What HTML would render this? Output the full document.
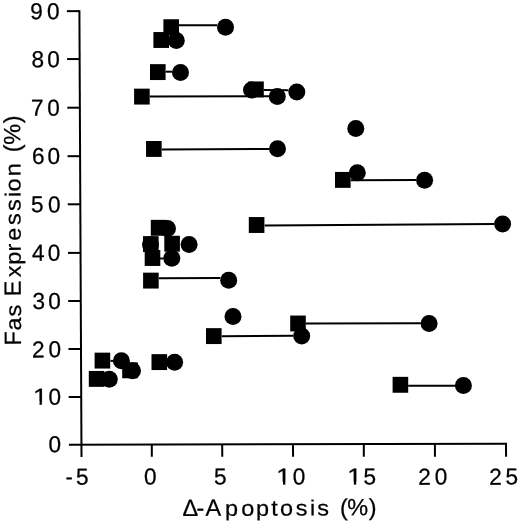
<!DOCTYPE html><html><head><meta charset="utf-8"><style>html,body{margin:0;padding:0;background:#fff}svg{display:block;will-change:transform}text{font-family:"Liberation Sans",sans-serif;fill:#000;stroke:#000;stroke-width:0.25px}</style></head><body>
<svg width="520" height="523" viewBox="0 0 520 523">
<rect width="520" height="523" fill="#fff"/>
<defs><clipPath id="c1"><rect x="-5" y="-30" width="30" height="27.356"/><rect x="5.532" y="-30" width="1.944" height="32"/></clipPath></defs>
<line x1="79.40" y1="10.20" x2="81.50" y2="457.00" stroke="#000" stroke-width="2.0"/>
<line x1="68.90" y1="444.75" x2="507.00" y2="443.83" stroke="#000" stroke-width="2.0"/>
<line x1="66.85" y1="11.15" x2="79.40" y2="11.15" stroke="#000" stroke-width="2.0"/>
<line x1="67.08" y1="59.05" x2="79.63" y2="59.05" stroke="#000" stroke-width="2.0"/>
<line x1="67.31" y1="107.70" x2="79.86" y2="107.70" stroke="#000" stroke-width="2.0"/>
<line x1="67.53" y1="156.20" x2="80.08" y2="156.20" stroke="#000" stroke-width="2.0"/>
<line x1="67.76" y1="204.30" x2="80.31" y2="204.30" stroke="#000" stroke-width="2.0"/>
<line x1="67.99" y1="252.90" x2="80.54" y2="252.90" stroke="#000" stroke-width="2.0"/>
<line x1="68.21" y1="301.00" x2="80.76" y2="301.00" stroke="#000" stroke-width="2.0"/>
<line x1="68.44" y1="349.00" x2="80.99" y2="349.00" stroke="#000" stroke-width="2.0"/>
<line x1="68.67" y1="397.00" x2="81.22" y2="397.00" stroke="#000" stroke-width="2.0"/>
<line x1="151.80" y1="444.57" x2="151.85" y2="456.80" stroke="#000" stroke-width="2.0"/>
<line x1="222.20" y1="444.42" x2="222.25" y2="456.80" stroke="#000" stroke-width="2.0"/>
<line x1="293.00" y1="444.28" x2="293.05" y2="456.80" stroke="#000" stroke-width="2.0"/>
<line x1="363.80" y1="444.13" x2="363.85" y2="456.80" stroke="#000" stroke-width="2.0"/>
<line x1="434.90" y1="443.98" x2="434.95" y2="456.80" stroke="#000" stroke-width="2.0"/>
<line x1="506.00" y1="443.83" x2="506.05" y2="456.80" stroke="#000" stroke-width="2.0"/>
<text x="30.44" y="18.87" font-size="22" transform="translate(36.550,11.300) rotate(-0.2) scale(1.03,1.05) translate(-36.550,-11.300)">9</text>
<text x="47.28" y="18.87" font-size="22" transform="translate(53.400,11.300) rotate(-0.2) scale(1.03,1.05) translate(-53.400,-11.300)">0</text>
<text x="31.58" y="66.77" font-size="22" transform="translate(37.700,59.200) rotate(-0.2) scale(1.03,1.05) translate(-37.700,-59.200)">8</text>
<text x="47.53" y="66.77" font-size="22" transform="translate(53.650,59.200) rotate(-0.2) scale(1.03,1.05) translate(-53.650,-59.200)">0</text>
<text x="31.17" y="115.27" font-size="22" transform="translate(37.300,107.700) rotate(-0.2) scale(1.03,1.05) translate(-37.300,-107.700)">7</text>
<text x="47.53" y="115.27" font-size="22" transform="translate(53.650,107.700) rotate(-0.2) scale(1.03,1.05) translate(-53.650,-107.700)">0</text>
<text x="32.06" y="163.52" font-size="22" transform="translate(38.250,155.950) rotate(-0.2) scale(1.03,1.05) translate(-38.250,-155.950)">6</text>
<text x="47.73" y="163.52" font-size="22" transform="translate(53.850,155.950) rotate(-0.2) scale(1.03,1.05) translate(-53.850,-155.950)">0</text>
<text x="31.05" y="211.91" font-size="22" transform="translate(37.150,204.450) rotate(-0.2) scale(1.03,1.05) translate(-37.150,-204.450)">5</text>
<text x="48.18" y="212.02" font-size="22" transform="translate(54.300,204.450) rotate(-0.2) scale(1.03,1.05) translate(-54.300,-204.450)">0</text>
<text x="32.20" y="260.27" font-size="22" transform="translate(38.250,252.700) rotate(-0.2) scale(1.03,1.05) translate(-38.250,-252.700)">4</text>
<text x="47.88" y="260.27" font-size="22" transform="translate(54.000,252.700) rotate(-0.2) scale(1.03,1.05) translate(-54.000,-252.700)">0</text>
<text x="32.60" y="308.52" font-size="22" transform="translate(38.650,300.950) rotate(-0.2) scale(1.03,1.05) translate(-38.650,-300.950)">3</text>
<text x="48.53" y="308.52" font-size="22" transform="translate(54.650,300.950) rotate(-0.2) scale(1.03,1.05) translate(-54.650,-300.950)">0</text>
<text x="32.18" y="357.03" font-size="22" transform="translate(38.300,349.350) rotate(-0.2) scale(1.03,1.05) translate(-38.300,-349.350)">2</text>
<text x="48.68" y="356.92" font-size="22" transform="translate(54.800,349.350) rotate(-0.2) scale(1.03,1.05) translate(-54.800,-349.350)">0</text>
<g transform="translate(38.650,396.700) rotate(-0.2) scale(1.2,1.05) translate(-38.650,-396.700) translate(33.854,404.268)"><text x="0" y="0" font-size="22" clip-path="url(#c1)">1</text></g>
<text x="48.68" y="404.27" font-size="22" transform="translate(54.800,396.700) rotate(-0.2) scale(1.03,1.05) translate(-54.800,-396.700)">0</text>
<text x="48.68" y="451.92" font-size="22" transform="translate(54.800,444.350) rotate(-0.2) scale(1.03,1.05) translate(-54.800,-444.350)">0</text>
<rect x="66.35" y="477.40" width="5.5" height="2.1"/>
<text x="76.10" y="484.46" font-size="22" transform="translate(82.200,477.000) rotate(-0.2) scale(1.03,1.05) translate(-82.200,-477.000)">5</text>
<text x="144.28" y="484.17" font-size="22" transform="translate(150.400,476.600) rotate(-0.2) scale(1.03,1.05) translate(-150.400,-476.600)">0</text>
<text x="214.10" y="484.06" font-size="22" transform="translate(220.200,476.600) rotate(-0.2) scale(1.03,1.05) translate(-220.200,-476.600)">5</text>
<g transform="translate(282.100,476.600) rotate(-0.2) scale(1.2,1.05) translate(-282.100,-476.600) translate(277.304,484.168)"><text x="0" y="0" font-size="22" clip-path="url(#c1)">1</text></g>
<text x="292.98" y="484.17" font-size="22" transform="translate(299.100,476.600) rotate(-0.2) scale(1.03,1.05) translate(-299.100,-476.600)">0</text>
<g transform="translate(352.950,476.600) rotate(-0.2) scale(1.2,1.05) translate(-352.950,-476.600) translate(348.154,484.168)"><text x="0" y="0" font-size="22" clip-path="url(#c1)">1</text></g>
<text x="363.60" y="484.06" font-size="22" transform="translate(369.700,476.600) rotate(-0.2) scale(1.03,1.05) translate(-369.700,-476.600)">5</text>
<text x="418.48" y="484.28" font-size="22" transform="translate(424.600,476.600) rotate(-0.2) scale(1.03,1.05) translate(-424.600,-476.600)">2</text>
<text x="434.93" y="484.17" font-size="22" transform="translate(441.050,476.600) rotate(-0.2) scale(1.03,1.05) translate(-441.050,-476.600)">0</text>
<text x="489.33" y="484.28" font-size="22" transform="translate(495.450,476.600) rotate(-0.2) scale(1.03,1.05) translate(-495.450,-476.600)">2</text>
<text x="505.75" y="484.06" font-size="22" transform="translate(511.850,476.600) rotate(-0.2) scale(1.03,1.05) translate(-511.850,-476.600)">5</text>
<text y="515.6" font-size="23.5" transform="rotate(-0.2 279 507)"><tspan x="182.36">Δ</tspan><tspan x="196.49">-</tspan><tspan x="205.46">A</tspan><tspan x="340.03">(</tspan><tspan x="347.25">%</tspan><tspan x="368.65">)</tspan></text>
<text y="515.6" font-size="23.5" transform="rotate(-0.2 279 507) matrix(1,0,0,0.93,0,36.092)"><tspan x="224.90">p</tspan><tspan x="241.27">o</tspan><tspan x="255.90">p</tspan><tspan x="271.24">t</tspan><tspan x="279.97">o</tspan><tspan x="295.82">s</tspan><tspan x="310.05">i</tspan><tspan x="317.32">s</tspan></text>
<text transform="rotate(-0.2 12 230) rotate(-90)" y="20.6" font-size="23.5"><tspan x="-345.47">F</tspan><tspan x="-296.35">E</tspan><tspan x="-152.37">(</tspan><tspan x="-144.90">%</tspan><tspan x="-123.30">)</tspan></text>
<text transform="rotate(-0.2 12 230) rotate(-90) matrix(1,0,0,0.93,0,1.442)" y="20.6" font-size="23.5"><tspan x="-330.53">a</tspan><tspan x="-316.63">s</tspan><tspan x="-277.38">x</tspan><tspan x="-264.90">p</tspan><tspan x="-251.60">r</tspan><tspan x="-240.81">e</tspan><tspan x="-224.98">s</tspan><tspan x="-210.93">s</tspan><tspan x="-197.05">i</tspan><tspan x="-191.58">o</tspan><tspan x="-176.20">n</tspan></text>
<line x1="179.00" y1="25.20" x2="217.00" y2="25.20" stroke="#000" stroke-width="2.0"/>
<line x1="165.60" y1="71.70" x2="172.30" y2="71.70" stroke="#000" stroke-width="2.0"/>
<line x1="149.70" y1="96.40" x2="269.00" y2="96.30" stroke="#000" stroke-width="2.0"/>
<line x1="263.80" y1="89.90" x2="288.50" y2="90.20" stroke="#000" stroke-width="2.0"/>
<line x1="161.70" y1="149.40" x2="269.10" y2="148.90" stroke="#000" stroke-width="2.0"/>
<line x1="350.60" y1="180.20" x2="416.00" y2="180.10" stroke="#000" stroke-width="2.0"/>
<line x1="264.60" y1="225.60" x2="494.00" y2="224.10" stroke="#000" stroke-width="2.0"/>
<line x1="160.10" y1="258.50" x2="163.50" y2="258.50" stroke="#000" stroke-width="2.0"/>
<line x1="158.80" y1="278.30" x2="220.40" y2="277.90" stroke="#000" stroke-width="2.0"/>
<line x1="221.80" y1="336.30" x2="293.30" y2="335.80" stroke="#000" stroke-width="2.0"/>
<line x1="305.80" y1="323.50" x2="420.80" y2="323.20" stroke="#000" stroke-width="2.0"/>
<line x1="110.50" y1="360.90" x2="113.30" y2="360.90" stroke="#000" stroke-width="2.0"/>
<line x1="408.20" y1="385.80" x2="455.00" y2="385.80" stroke="#000" stroke-width="2.0"/>
<circle cx="225.5" cy="27.3" r="8.5"/>
<circle cx="176.3" cy="40.4" r="8.5"/>
<circle cx="180.5" cy="72.4" r="8.5"/>
<circle cx="251.5" cy="90" r="8.5"/>
<circle cx="277.3" cy="96.6" r="8.5"/>
<circle cx="296.8" cy="92" r="8.5"/>
<circle cx="277.5" cy="148.7" r="8.5"/>
<circle cx="355.8" cy="128.4" r="8.5"/>
<circle cx="357.3" cy="172.7" r="8.5"/>
<circle cx="424.6" cy="180.2" r="8.5"/>
<circle cx="502.6" cy="224" r="8.5"/>
<circle cx="167.5" cy="228.5" r="8.5"/>
<circle cx="150.5" cy="244.5" r="8.5"/>
<circle cx="189.1" cy="244.4" r="8.5"/>
<circle cx="171.8" cy="258.3" r="8.5"/>
<circle cx="228.7" cy="280.2" r="8.5"/>
<circle cx="233" cy="316.5" r="8.5"/>
<circle cx="301.7" cy="336" r="8.5"/>
<circle cx="429.1" cy="323.5" r="8.5"/>
<circle cx="174.6" cy="362.3" r="8.5"/>
<circle cx="121.4" cy="360.8" r="8.5"/>
<circle cx="132.5" cy="370.8" r="8.5"/>
<circle cx="109.3" cy="379.2" r="8.5"/>
<circle cx="463.4" cy="385.4" r="8.5"/>
<rect x="163.40" y="19.25" width="15.6" height="15.9"/>
<rect x="153.40" y="32.05" width="15.6" height="15.9"/>
<rect x="150.00" y="64.15" width="15.6" height="15.9"/>
<rect x="134.10" y="88.65" width="15.6" height="15.9"/>
<rect x="248.20" y="81.45" width="15.6" height="15.9"/>
<rect x="146.05" y="141.00" width="15.6" height="15.9"/>
<rect x="335.00" y="171.95" width="15.6" height="15.9"/>
<rect x="248.80" y="217.05" width="15.6" height="15.9"/>
<rect x="150.80" y="219.85" width="15.6" height="15.9"/>
<rect x="143.00" y="236.15" width="15.6" height="15.9"/>
<rect x="164.30" y="235.75" width="15.6" height="15.9"/>
<rect x="144.70" y="250.05" width="15.6" height="15.9"/>
<rect x="143.10" y="272.65" width="15.6" height="15.9"/>
<rect x="206.00" y="328.15" width="15.6" height="15.9"/>
<rect x="290.20" y="315.55" width="15.6" height="15.9"/>
<rect x="151.50" y="354.15" width="15.6" height="15.9"/>
<rect x="94.60" y="352.65" width="15.6" height="15.9"/>
<rect x="88.80" y="370.95" width="15.6" height="15.9"/>
<rect x="122.20" y="362.35" width="15.6" height="15.9"/>
<rect x="392.60" y="376.85" width="15.6" height="15.9"/>
</svg></body></html>
